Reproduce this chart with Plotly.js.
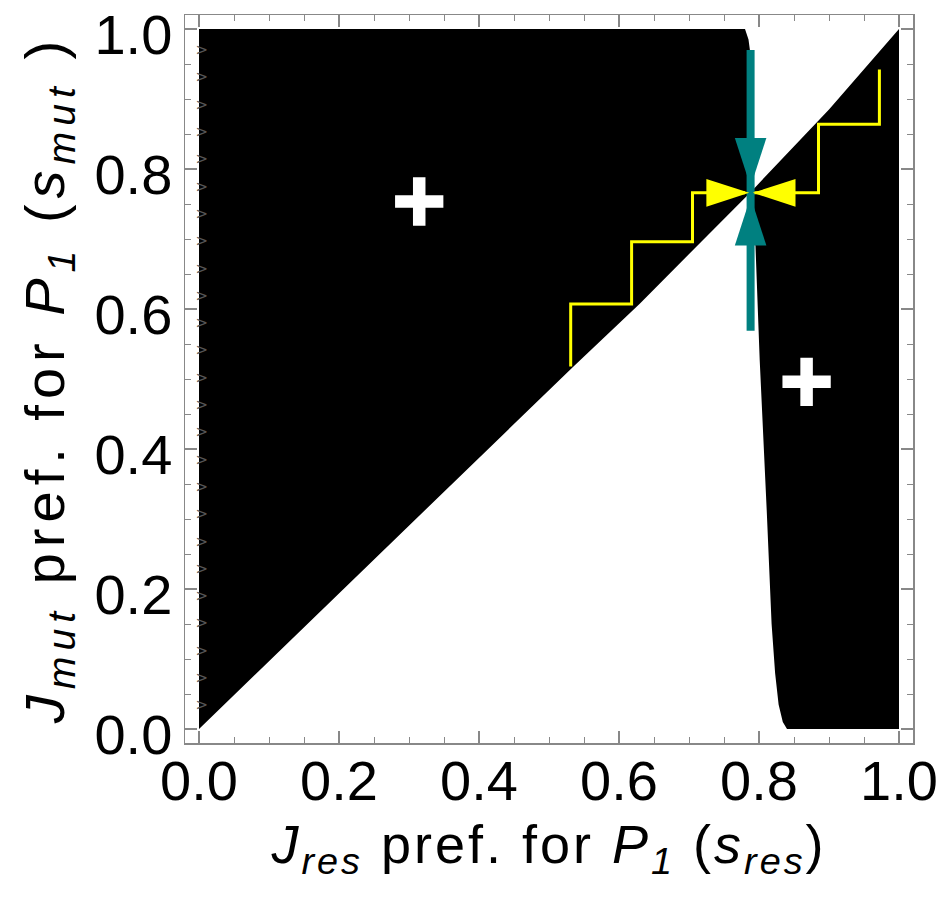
<!DOCTYPE html>
<html>
<head>
<meta charset="utf-8">
<script src="https://cdn.plot.ly/plotly-3.0.1.min.js"></script>
<style>html,body{margin:0;padding:0;background:#fff;}#chart{width:948px;height:906px;}</style>
</head>
<body>
<div id="chart"></div>
<script>
// Boundary along the (near-)diagonal, from (0,0) to (1,1); index 4 is the singular point
const diagX = [0, 0.25, 0.535, 0.63, 0.789, 0.9, 1.0];
const diagY = [0, 0.242, 0.518, 0.608, 0.768, 0.885, 1.0];
const crossIdx = 4;
// Steep boundary curve, from top (s_mut = 1) to bottom (s_mut = 0); index 4 is the singular point
const curveX = [0.78, 0.785, 0.787, 0.788, 0.789, 0.795, 0.80, 0.801, 0.811, 0.818, 0.823, 0.828, 0.834, 0.840];
const curveY = [1.0, 0.985, 0.97, 0.9, 0.768, 0.689, 0.569, 0.527, 0.313, 0.150, 0.080, 0.035, 0.010, 0];
const curveCross = 4;
// Yellow evolutionary staircases
const stairLeftX = [0.531, 0.531, 0.618, 0.618, 0.705, 0.705, 0.78];
const stairLeftY = [0.518, 0.607, 0.607, 0.696, 0.696, 0.766, 0.766];
const stairRightX = [0.972, 0.972, 0.885, 0.885, 0.79];
const stairRightY = [0.942, 0.864, 0.864, 0.766, 0.766];
// Teal convergence-stability line and arrow tips
const tealLineX = [0.788, 0.788];
const tealLineY = [0.569, 0.970];
const tealTipX = [0.788, 0.788];
const tealTipY = [0.775, 0.760];
const tealTipAngle = [180, 0];
const yellowTipX = [0.786, 0.791];
const yellowTipY = [0.766, 0.766];
const yellowTipAngle = [90, 270];
// "+" markers (mutant can invade)
const plusX = [0.3146, 0.868];
const plusY = [0.7536, 0.496];
// mesh artifacts at left edge
const chevY = [0.968, 0.929, 0.890, 0.851, 0.812, 0.773, 0.734, 0.695, 0.656, 0.617, 0.578, 0.539, 0.500, 0.461, 0.422, 0.383, 0.344, 0.305, 0.266, 0.227, 0.188, 0.149, 0.110, 0.071, 0.032];
const tickVals = [0, 0.2, 0.4, 0.6, 0.8, 1.0];
const tickText = ['0.0', '0.2', '0.4', '0.6', '0.8', '1.0'];

// Build region polygons from the boundary arrays
const leftX = [], leftY = [];
for (let i = 0; i <= crossIdx; i++) { leftX.push(diagX[i]); leftY.push(diagY[i]); }
for (let i = curveCross; i >= 0; i--) { leftX.push(curveX[i]); leftY.push(curveY[i]); }
leftX.push(0); leftY.push(1);

const rightX = [1, 1], rightY = [0, 1];
for (let i = diagX.length - 1; i >= crossIdx; i--) { rightX.push(diagX[i]); rightY.push(diagY[i]); }
for (let i = curveCross; i < curveX.length; i++) { rightX.push(curveX[i]); rightY.push(curveY[i]); }

const traces = [
  {x: leftX, y: leftY, type: 'scatter', mode: 'lines', fill: 'toself', fillcolor: '#000', line: {width: 0, color: '#000'}, hoverinfo: 'skip'},
  {x: rightX, y: rightY, type: 'scatter', mode: 'lines', fill: 'toself', fillcolor: '#000', line: {width: 0, color: '#000'}, hoverinfo: 'skip'},
  {x: chevY.map(() => 0.004), y: chevY, type: 'scatter', mode: 'text', text: chevY.map(() => '>'), textfont: {family: 'DejaVu Sans', size: 15, color: '#555'}, hoverinfo: 'skip'},
  {x: stairLeftX, y: stairLeftY, type: 'scatter', mode: 'lines', line: {color: '#FFFF00', width: 3}},
  {x: stairRightX, y: stairRightY, type: 'scatter', mode: 'lines', line: {color: '#FFFF00', width: 3}},
  {x: tealLineX, y: tealLineY, type: 'scatter', mode: 'lines', line: {color: '#008080', width: 8}},
  {x: tealTipX, y: tealTipY, type: 'scatter', mode: 'markers', marker: {symbol: 'arrow', size: 51, angle: tealTipAngle, color: '#008080', line: {width: 0}}},
  {x: yellowTipX, y: yellowTipY, type: 'scatter', mode: 'markers', marker: {symbol: 'arrow', size: 45, angle: yellowTipAngle, color: '#FFFF00', line: {width: 0}}},
  {x: plusX, y: plusY, type: 'scatter', mode: 'markers', marker: {symbol: 'cross-thin', size: 34.5, color: '#fff', line: {width: 12.5, color: '#fff'}}}
];

const FONT = 'Liberation Sans, Arial, sans-serif';
const axisCommon = {
  range: [-0.02, 1.02],
  tickvals: tickVals,
  ticktext: tickText,
  ticks: 'inside',
  ticklen: 12,
  tickwidth: 1.2,
  tickcolor: '#888',
  showline: true,
  linecolor: '#888',
  linewidth: 1.5,
  mirror: 'ticks',
  showgrid: false,
  zeroline: false,
  ticklabeloverflow: 'allow',
  minor: {dtick: 0.05, tick0: 0, ticks: 'inside', ticklen: 6, tickwidth: 1, tickcolor: '#888', showgrid: false},
  tickfont: {family: FONT, size: 56, color: '#000'},
  fixedrange: true
};

const layout = {
  width: 948, height: 906,
  margin: {l: 185, r: 35, t: 15, b: 163},
  paper_bgcolor: '#fff', plot_bgcolor: '#fff',
  showlegend: false,
  xaxis: Object.assign({}, axisCommon, {
    ticklabelstandoff: -12,
    title: {text: '<span style="letter-spacing:3px"><i>J<sub>res</sub></i> pref. for <i>P<sub>1</sub></i> (<i>s<sub>res</sub></i>)</span>', font: {family: FONT, size: 54, color: '#000'}, standoff: 14}
  }),
  yaxis: Object.assign({}, axisCommon, {
    ticklabelshift: 5,
    title: {text: '<span style="letter-spacing:6px"><i>J<sub>mut</sub></i> pref. for <i>P<sub>1</sub></i> (<i>s<sub>mut</sub></i> )</span>', font: {family: FONT, size: 56, color: '#000'}, standoff: 12}
  })
};

Plotly.newPlot('chart', traces, layout, {displayModeBar: false, staticPlot: true});
</script>
</body>
</html>
